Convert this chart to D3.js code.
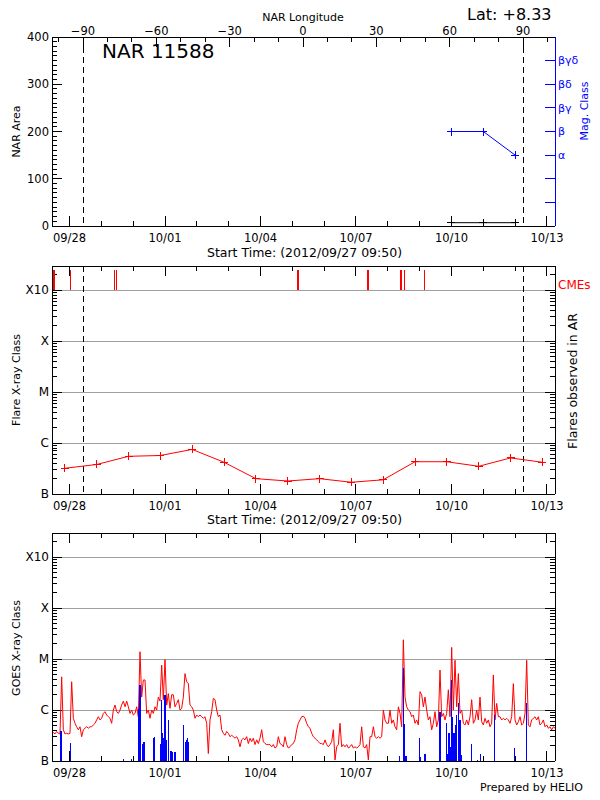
<!DOCTYPE html>
<html><head><meta charset="utf-8">
<script src="https://cdn.jsdelivr.net/npm/d3@7"></script>
<style>body{margin:0;background:#fff} text{font-family:"DejaVu Sans",sans-serif}</style>
</head><body><svg id="c" width="600" height="800"></svg>
<script>
// ---------------- DATA ----------------
const regionName = "NAR 11588";
const latitudeText = "Lat:  +8.33";
const startTimeLabel = "Start Time: (2012/09/27 09:50)";
const dateTickLabels = ["2012-09-28","2012-10-01","2012-10-04","2012-10-07","2012-10-10","2012-10-13"];
const lonTickLabels = [-90,-60,-30,0,30,60,90];
const areaTickLabels = [0,100,200,300,400];
const magTickValues = [1,2,3,4,5,6,7];
const magTickLabels = ["","","α","β","βγ","βδ","βγδ"];
const classTickValues = [1e-7,1e-6,1e-5,1e-4,1e-3];
const classTickLabels = ["B","C","M","X","X10"];

// NOAA region observations
const narDates = ["2012-10-10T00:00Z","2012-10-11T00:00Z","2012-10-12T00:00Z"];
const narArea = [7,7,7];
const narMag = [4,4,3];   // beta, beta, alpha
const limbLongitudes = [-90,90];

// flares observed in AR (daily)
const flareDates = ["2012-09-27T20:30Z","2012-09-28T20:30Z","2012-09-29T20:30Z","2012-09-30T20:30Z",
 "2012-10-01T20:30Z","2012-10-02T20:30Z","2012-10-03T20:30Z","2012-10-04T20:30Z","2012-10-05T20:30Z",
 "2012-10-06T20:30Z","2012-10-07T20:30Z","2012-10-08T20:30Z","2012-10-09T20:30Z","2012-10-10T20:30Z",
 "2012-10-11T20:30Z","2012-10-12T20:30Z"];
const flareFlux = [3.2e-7,3.8e-7,5.5e-7,5.7e-7,7.5e-7,4.2e-7,2.0e-7,1.8e-7,2.0e-7,1.7e-7,1.9e-7,
 4.3e-7,4.3e-7,3.5e-7,5.1e-7,4.2e-7];

// CMEs
const cmeTimes = ["2012-09-27T11:00Z","2012-09-27T12:20Z","2012-09-28T00:45Z","2012-09-29T10:05Z",
 "2012-09-29T11:25Z","2012-10-05T04:15Z","2012-10-07T09:05Z","2012-10-08T09:55Z","2012-10-08T12:25Z",
 "2012-10-09T03:35Z"];
const cmeBarFrom = 1e-3, cmeBarTo = 2.5e-3;

// GOES X-ray flux, regular cadence
const goesStart = "2012-09-27T10:33Z";
const goesStepMinutes = 75.4;
const goesFlux = [
3.5e-7,3.6e-7,3.4e-7,3.8e-7,3.5e-7,3.4e-7,4.5e-6,4.1e-7,3.4e-7,3.5e-7,
3.4e-7,3.5e-7,3.6e-6,6.9e-7,5.5e-7,4.7e-7,4.1e-7,4.7e-7,3.0e-7,4.1e-7,
4.4e-7,4.7e-7,4.4e-7,4.7e-7,4.7e-7,5.1e-7,5.5e-7,6.4e-7,7.4e-7,6.4e-7,
6.9e-7,8.6e-7,9.3e-7,8.0e-7,7.4e-7,6.9e-7,5.5e-7,1.0e-6,1.25e-6,9.3e-7,
8.6e-7,1.0e-6,1.25e-6,1.5e-6,1.16e-6,1.5e-6,1.16e-6,8.6e-7,1.0e-6,8.0e-7,
8.6e-7,1.16e-6,7.4e-7,1.4e-5,1.8e-6,3.9e-6,3.9e-6,8.6e-7,1.0e-6,6.9e-7,
1.0e-6,8.6e-7,1.16e-6,1.0e-6,1.8e-6,1.5e-6,7.6e-6,1.6e-6,9.8e-6,1.25e-6,
2.1e-6,1.08e-6,2.0e-6,2.0e-6,1.16e-6,1.35e-6,1.6e-6,1.0e-6,1.08e-6,1.8e-6,
5.2e-6,3.6e-6,3.3e-6,1.25e-6,1.16e-6,1.0e-6,6.9e-7,8.0e-7,7.4e-7,8.0e-7,
7.4e-7,6.9e-7,7.4e-7,5.5e-7,1.4e-7,6.4e-7,9.3e-7,1.7e-6,1.6e-6,1.0e-6,
7.4e-7,8.0e-7,4.1e-7,3.5e-7,3.2e-7,3.8e-7,3.5e-7,3.0e-7,3.2e-7,3.0e-7,
2.8e-7,3.0e-7,2.6e-7,1.9e-7,2.6e-7,2.8e-7,2.6e-7,3.0e-7,2.2e-7,2.8e-7,
2.4e-7,2.8e-7,2.1e-7,2.6e-7,2.2e-7,2.8e-7,4.1e-7,2.4e-7,2.2e-7,2.1e-7,
2.1e-7,2.1e-7,1.9e-7,2.1e-7,1.8e-7,1.9e-7,3.0e-7,2.2e-7,2.1e-7,1.9e-7,
3.0e-7,2.1e-7,1.8e-7,1.9e-7,2.1e-7,2.2e-7,2.6e-7,4.1e-7,5.5e-7,6.4e-7,
7.4e-7,7.6e-7,6.9e-7,5.5e-7,4.7e-7,4.4e-7,3.5e-7,3.0e-7,2.8e-7,2.6e-7,
2.4e-7,2.2e-7,2.2e-7,2.1e-7,2.6e-7,2.1e-7,1.9e-7,2.1e-7,2.4e-7,4.1e-7,
1.05e-7,1.9e-7,2.1e-7,5.5e-7,1.9e-7,2.1e-7,1.9e-7,2.1e-7,1.8e-7,1.9e-7,
2.1e-7,1.8e-7,1.9e-7,1.8e-7,1.9e-7,2.1e-7,4.7e-7,1.9e-7,1.8e-7,2.1e-7,
1.05e-7,3.0e-7,3.0e-7,4.7e-7,3.0e-7,2.8e-7,3.0e-7,2.8e-7,3.0e-7,1.0e-6,
6.4e-7,5.5e-7,5.5e-7,1.0e-6,5.5e-7,6.4e-7,4.7e-7,4.1e-7,1.16e-6,8.6e-7,
4.7e-7,2.4e-5,1.8e-6,1.16e-6,1.0e-6,9.3e-7,7.4e-7,8.0e-7,5.5e-7,6.4e-7,
5.1e-7,2.3e-6,2.0e-6,1.16e-6,1.8e-6,1.0e-6,6.4e-7,7.4e-7,4.1e-7,5.5e-7,
9.3e-7,4.7e-7,6.4e-7,6.1e-6,7.4e-7,8.6e-7,6.4e-7,8.6e-7,2.5e-6,7.4e-7,
1.7e-5,1.0e-6,9.5e-6,1.16e-6,5.2e-6,8.6e-7,1.0e-6,5.5e-7,5.1e-7,6.4e-7,
5.1e-7,7.4e-7,1.6e-6,5.5e-7,6.4e-7,1.0e-6,6.4e-7,1.8e-6,5.9e-7,5.1e-7,
6.9e-7,5.5e-7,6.4e-7,4.7e-7,5.5e-7,4.9e-6,6.4e-7,1.35e-6,7.4e-7,7.4e-7,
6.4e-7,6.9e-7,6.4e-7,6.9e-7,6.4e-7,5.5e-7,7.4e-7,3.3e-6,6.4e-7,5.1e-7,
5.9e-7,7.4e-7,5.1e-7,5.5e-7,8.6e-7,9.5e-6,5.1e-7,4.7e-7,6.4e-7,6.9e-7,
7.4e-7,6.4e-7,7.4e-7,5.1e-7,5.5e-7,6.4e-7,4.7e-7,5.1e-7,4.4e-7,4.7e-7,
4.1e-7,4.7e-7,4.4e-7,4.4e-7];

// GOES flare events (days after 2012-09-28 00:00 UT) and peak flux
const eventRef = "2012-09-28T00:00Z";
const eventDay = [-0.267,0.037,1.691,1.953,2.173,2.215,2.288,2.340,2.634,2.665,2.864,2.895,2.927,2.969,
 3.000,3.031,3.105,3.188,3.241,3.314,3.576,3.639,3.681,3.712,3.743,10.361,10.487,10.518,10.571,10.990,
 11.031,11.147,11.178,11.639,11.848,11.890,11.921,11.953,12.005,12.037,12.079,12.120,12.162,12.215,
 12.267,12.319,12.623,12.812,12.906,13.346,13.974,14.361];
const eventFlux = [3.9e-7,2.3e-7,1.1e-7,1.1e-7,1.05e-6,3.1e-6,2.2e-7,2.4e-7,2.8e-7,2.9e-7,2.2e-7,1.6e-6,
 3.5e-7,2.8e-7,2.0e-6,2.6e-7,6.4e-7,1.6e-7,1.5e-7,1.5e-7,5.2e-7,2.4e-7,2.6e-7,2.8e-7,2.4e-7,1.25e-7,
 6.6e-6,5.3e-7,1.25e-7,2.8e-7,1.2e-7,1.4e-7,1.4e-7,9.3e-7,5.5e-7,1.4e-7,3.5e-7,1.9e-7,3.9e-6,7.4e-7,
 3.5e-7,5.1e-7,8.0e-7,1.35e-6,6.4e-7,1.3e-7,2.2e-7,1.05e-7,1.4e-7,8.0e-7,1.8e-7,1.35e-6];

// ---------------- CHART ----------------
const svg = d3.select("#c");
svg.append("rect").attr("width",600).attr("height",800).attr("fill","#fff");
const L = 52, R = 555;
const P1 = {t:37, b:226}, P2 = {t:266, b:494}, P3 = {t:533, b:761};
const FS = 12;

const x = d3.scaleUtc().domain([new Date("2012-09-27T10:48Z"), new Date("2012-10-13T06:03Z")]).range([L, R]);
const xLon = d3.scaleLinear().domain([-90, 90]).range([83, 523]);
const yArea = d3.scaleLinear().domain([0, 400]).range([P1.b, P1.t]);
const yMag = d3.scaleLinear().domain([0, 8]).range([P1.b, P1.t]);
const yFl = d3.scaleLog().domain([1e-7, 3e-3]).range([P2.b, P2.t]);
const yG = d3.scaleLog().domain([1e-7, 3e-3]).range([P3.b, P3.t]);

const majorDates = dateTickLabels.map(d => new Date(d + "T00:00Z"));
const dailyDates = d3.utcDay.range(x.domain()[0], x.domain()[1]);
const fmt = d3.utcFormat("%m/%d");
const isMajor = d => majorDates.some(m => +m === +d);

function line(g, x1, y1, x2, y2, col, w, dash) {
  const l = g.append("line").attr("x1", x1).attr("y1", y1).attr("x2", x2).attr("y2", y2)
    .attr("stroke", col || "#000").attr("stroke-width", w || 1).attr("shape-rendering", "crispEdges");
  if (dash) l.attr("stroke-dasharray", dash);
  return l;
}
function text(g, x0, y0, s, opt) {
  opt = opt || {};
  const t = g.append("text").attr("x", x0).attr("y", y0).text(s)
    .attr("font-size", opt.size || FS).attr("fill", opt.fill || "#000")
    .attr("text-anchor", opt.anchor || "start");
  if (opt.rot) t.attr("transform", `rotate(${opt.rot},${x0},${y0})`);
  if (opt.dy) t.attr("dy", opt.dy);
  return t;
}
function timeAxis(g, P, topTicks, labelY, titleText, titleY) {
  dailyDates.forEach(d => {
    const len = isMajor(d) ? 10 : 5;
    line(g, x(d), P.b, x(d), P.b - len);
    if (topTicks) line(g, x(d), P.t, x(d), P.t + len);
  });
  majorDates.forEach(d => text(g, x(d), labelY, fmt(d), {anchor: "middle", size: 11.5}));
  if (titleText) text(g, (L + R) / 2 + 1, titleY, titleText, {anchor: "middle", size: 12.5});
}
function logAxis(g, y, P) {
  for (let k = -7; k <= -3; k++) {
    for (let m = 1; m <= 9; m++) {
      const v = m * Math.pow(10, k);
      if (v > y.domain()[1]) break;
      const len = m === 1 ? 10 : 5;
      line(g, L, y(v), L + len, y(v));
      line(g, R, y(v), R - len, y(v));
    }
  }
  classTickValues.forEach((v, i) => text(g, L - 3, y(v), classTickLabels[i], {anchor: "end", dy: "0.35em"}));
}
function grid(g, y) {
  classTickValues.slice(1).forEach(v => line(g, L, y(v), R, y(v), "#a0a0a0", 1));
}
function box(g, P, rightColor) {
  line(g, L, P.t, R, P.t); line(g, L, P.b, R, P.b);
  line(g, L, P.t, L, P.b);
  line(g, R, P.t, R, P.b, rightColor || "#000");
}
function plus(g, cx, cy, col, s) {
  line(g, cx - s, cy, cx + s, cy, col); line(g, cx, cy - s, cx, cy + s, col);
}

// clip paths
const defs = svg.append("defs");
[P1, P2, P3].forEach((P, i) => defs.append("clipPath").attr("id", "clip" + i)
  .append("rect").attr("x", L).attr("y", P.t).attr("width", R - L).attr("height", P.b - P.t));

// ---------- Panel 1 ----------
const g1 = svg.append("g");
text(g1, 467, 20, latitudeText, {size: 16});
text(g1, 303, 21, "NAR Longitude", {anchor: "middle", size: 11});
text(g1, 102, 58, regionName, {size: 20});
// area axis
for (let v = 0; v <= 400; v += 10) line(g1, L, yArea(v), L + (v % 100 === 0 ? 10 : 5), yArea(v));
areaTickLabels.forEach(v => text(g1, L - 3, yArea(v), v, {anchor: "end", dy: "0.35em", size: 11.5}));
text(g1, 20, (P1.t + P1.b) / 2, "NAR Area", {anchor: "middle", size: 11, rot: -90});
// longitude axis
for (let lon = -100; lon <= 100; lon += 10) line(g1, xLon(lon), P1.t, xLon(lon), P1.t + (lon % 30 === 0 ? 10 : 5));
lonTickLabels.forEach(v => text(g1, xLon(v), 35, v === 0 ? "0" : (v < 0 ? "\u2212" + (-v) : v), {anchor: "middle", size: 11.5}));
// mag class axis
magTickValues.forEach((v, i) => {
  line(g1, R, yMag(v), R - 10, yMag(v), "#0000ff");
  if (magTickLabels[i]) text(g1, 558, yMag(v), magTickLabels[i], {fill: "#0000ff", size: 11, dy: "0.35em"});
});
text(g1, 588, 111, "Mag. Class", {anchor: "middle", size: 11, fill: "#0000ff", rot: -90});
timeAxis(g1, P1, false, 242, startTimeLabel, 257);
limbLongitudes.forEach(lon => line(g1, xLon(lon), P1.t, xLon(lon), P1.b, "#000", 1, "6,4"));
const nd = narDates.map(d => new Date(d));
g1.append("path").attr("d", d3.line()(nd.map((d, i) => [x(d), yMag(narMag[i])])))
  .attr("fill", "none").attr("stroke", "#0000ff");
nd.forEach((d, i) => plus(g1, x(d), yMag(narMag[i]), "#0000ff", 4));
g1.append("path").attr("d", d3.line()(nd.map((d, i) => [x(d), yArea(narArea[i])])))
  .attr("fill", "none").attr("stroke", "#000");
nd.forEach((d, i) => plus(g1, x(d), yArea(narArea[i]), "#000", 4));
box(g1, P1, "#0000ff");

// ---------- Panel 2 ----------
const g2 = svg.append("g");
grid(g2, yFl);
logAxis(g2, yFl, P2);
text(g2, 20, (P2.t + P2.b) / 2, "Flare X-ray Class", {anchor: "middle", size: 11, rot: -90});
text(g2, 577, 381, "Flares observed in AR", {anchor: "middle", size: 12.5, rot: -90});
text(g2, 558, 289, "CMEs", {fill: "#ff0000", size: 12});
timeAxis(g2, P2, true, 510, startTimeLabel, 524);
limbLongitudes.forEach(lon => line(g2, xLon(lon), P2.t, xLon(lon), P2.b, "#000", 1, "6,4"));
const gc = g2.append("g").attr("clip-path", "url(#clip1)");
cmeTimes.forEach(t => line(gc, x(new Date(t)), yFl(cmeBarFrom), x(new Date(t)), yFl(cmeBarTo), "#ff0000", 1.5));
const fd = flareDates.map(d => new Date(d));
g2.append("path").attr("d", d3.line()(fd.map((d, i) => [x(d), yFl(flareFlux[i])])))
  .attr("fill", "none").attr("stroke", "#ff0000");
fd.forEach((d, i) => plus(g2, x(d), yFl(flareFlux[i]), "#ff0000", 4));
box(g2, P2);

// ---------- Panel 3 ----------
const g3 = svg.append("g");
grid(g3, yG);
logAxis(g3, yG, P3);
text(g3, 20, 648, "GOES X-ray Class", {anchor: "middle", size: 11, rot: -90});
timeAxis(g3, P3, true, 777, null, 0);
text(g3, 583, 791, "Prepared by HELIO", {anchor: "end", size: 11});
const gd = g3.append("g").attr("clip-path", "url(#clip2)");
const t0 = new Date(goesStart).getTime();
const goesTimes = goesFlux.map((v, i) => new Date(t0 + i * goesStepMinutes * 60000));
gd.append("path").attr("d", d3.line()(goesTimes.map((d, i) => [x(d), yG(goesFlux[i])])))
  .attr("fill", "none").attr("stroke", "#ff0000").attr("stroke-width", 1);
const er = new Date(eventRef).getTime();
eventDay.forEach((dd, i) => {
  const xx = x(new Date(er + dd * 864e5));
  line(gd, xx, yG(1e-7), xx, yG(eventFlux[i]), "#0000ff", 1.5);
});
box(g3, P3);
</script></body></html>
